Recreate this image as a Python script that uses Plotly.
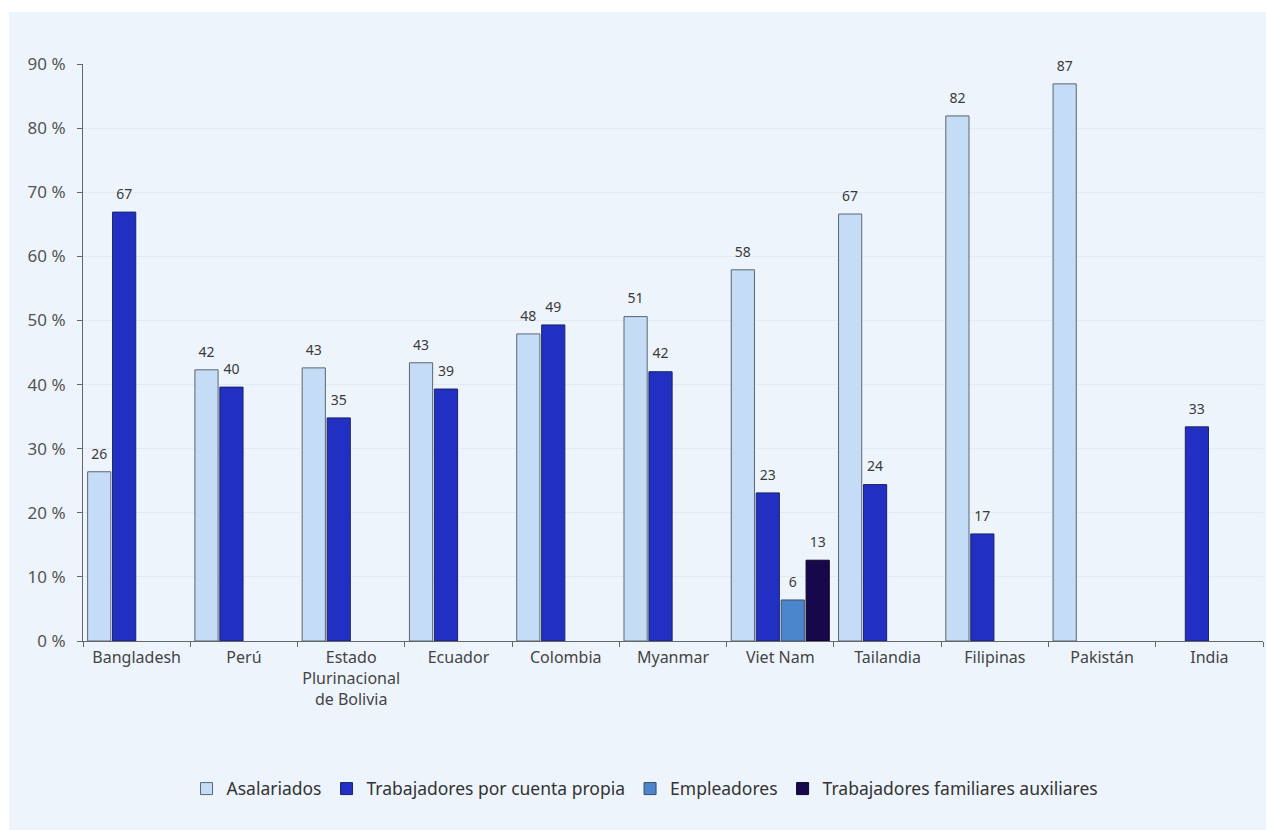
import plotly.graph_objects as go

# Employment status shares by country (percent)
countries = ["Bangladesh", "Perú", "Estado<br>Plurinacional<br>de Bolivia", "Ecuador",
             "Colombia", "Myanmar", "Viet Nam", "Tailandia", "Filipinas",
             "Pakistán", "India"]

asalariados = [26.4, 42.3, 42.6, 43.4, 47.9, 50.6, 57.9, 66.6, 81.9, 86.9, None]
cuenta_propia = [66.9, 39.6, 34.8, 39.3, 49.3, 42.0, 23.1, 24.4, 16.7, None, 33.4]
empleadores = [None, None, None, None, None, None, 6.4, None, None, None, None]
familiares = [None, None, None, None, None, None, 12.6, None, None, None, None]

series = [
    ("Asalariados", asalariados, "#c4dcf5", "#5b6673"),
    ("Trabajadores por cuenta propia", cuenta_propia, "#2130c2", "#1a2466"),
    ("Empleadores", empleadores, "#4b86cc", "#3a4d66"),
    ("Trabajadores familiares auxiliares", familiares, "#16084a", "#0d0626"),
]

y_ticks = [0, 10, 20, 30, 40, 50, 60, 70, 80, 90]
y_tick_text = [f"{v} %" for v in y_ticks]

FONT = "Noto Sans, Open Sans, sans-serif"
GAP = 0.07

fig = go.Figure()
for name, vals, fill, edge in series:
    fig.add_trace(go.Bar(
        name=name,
        x=countries,
        y=vals,
        marker=dict(color=fill, line=dict(color=edge, width=1)),
        cliponaxis=False,
    ))

# value labels: text-only scatter traces grouped the same way as the bars,
# with an invisible marker that lifts each label a little above its bar
for name, vals, fill, edge in series:
    fig.add_trace(go.Scatter(
        x=countries,
        y=vals,
        mode="markers+text",
        marker=dict(size=14, color="rgba(0,0,0,0)"),
        text=[f"{v:.0f}" if v is not None else "" for v in vals],
        textposition="top center",
        textfont=dict(size=14, color="#3a3a3a", family=FONT),
        showlegend=False,
        hoverinfo="skip",
        cliponaxis=False,
    ))

W, H = 1266, 830
ml, mr, mt, mb = 83, 3, 64, 189
pw, ph = W - ml - mr, H - mt - mb

# light panel behind the whole chart, leaving a thin white rim top/left
fig.add_shape(
    type="rect", xref="paper", yref="paper", layer="below",
    x0=(9 - ml) / pw, x1=(W + 5 - ml) / pw,
    y0=(H - mb - (H + 5)) / ph, y1=(H - mb - 12) / ph,
    fillcolor="#eef4fc", line=dict(width=0),
)

fig.update_layout(
    width=W, height=H,
    margin=dict(l=ml, r=mr, t=mt, b=mb, pad=0),
    paper_bgcolor="white",
    plot_bgcolor="rgba(0,0,0,0)",
    barmode="group",
    bargap=GAP,
    bargroupgap=0.07,
    scattermode="group",
    scattergap=GAP,
    font=dict(family=FONT, size=16, color="#444"),
    showlegend=True,
    legend=dict(
        orientation="h", x=(645 - ml) / pw, xanchor="center", y=-0.256, yanchor="middle",
        font=dict(size=17.5, color="#333", family=FONT),
        bgcolor="rgba(0,0,0,0)", tracegroupgap=0,
    ),
)

fig.update_xaxes(
    type="category",
    tickson="boundaries",
    tickangle=0,
    ticks="outside", ticklen=5, tickcolor="#666", tickwidth=1,
    showline=True, linecolor="#666", linewidth=1,
    tickfont=dict(size=16, color="#444", family=FONT),
    ticklabelstandoff=2,
    showgrid=False,
)
fig.update_yaxes(
    range=[0, 90],
    tickvals=y_ticks, ticktext=y_tick_text,
    ticks="outside", ticklen=5, tickcolor="#666", tickwidth=1,
    showline=True, linecolor="#666", linewidth=1,
    tickfont=dict(size=17, color="#555", family=FONT),
    showgrid=True, gridcolor="#e3eaf3", gridwidth=1,
    zeroline=False,
    ticklabelstandoff=8,
)

fig.write_html("out.html")
